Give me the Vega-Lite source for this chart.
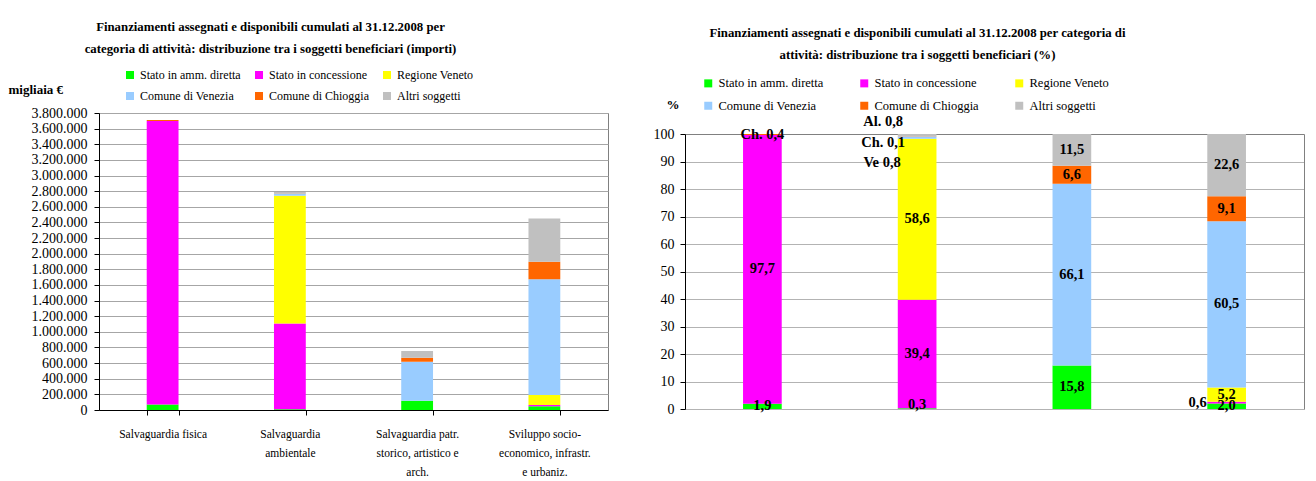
{
  "$schema": "https://vega.github.io/schema/vega-lite/v6.json",
  "padding": {"left": 7, "top": 20, "right": 13, "bottom": 0},
  "background": "white",
  "config": {
    "font": "Liberation Serif",
    "locale": {"number": {"decimal": ",", "thousands": ".", "grouping": [3], "currency": ["€", ""]}},
    "axis": {"labelColor": "#000", "titleColor": "#000", "labelFont": "Liberation Serif", "titleFont": "Liberation Serif"},
    "legend": {"labelFont": "Liberation Serif", "labelColor": "#000"}
  },
  "datasets": {
    "d": [
      {"cat": "Salvaguardia fisica", "sog": "Stato in amm. diretta", "ord": 1, "imp": 70500, "pct": 1.9, "lbl": "1,9"},
      {"cat": "Salvaguardia fisica", "sog": "Stato in concessione", "ord": 2, "imp": 3626600, "pct": 97.7, "lbl": "97,7"},
      {"cat": "Salvaguardia fisica", "sog": "Comune di Chioggia", "ord": 5, "imp": 14900, "pct": 0.4, "lbl": "Ch. 0,4"},
      {"cat": "Salvaguardia ambientale", "sog": "Stato in amm. diretta", "ord": 1, "imp": 8400, "pct": 0.3, "lbl": "0,3"},
      {"cat": "Salvaguardia ambientale", "sog": "Stato in concessione", "ord": 2, "imp": 1099300, "pct": 39.4, "lbl": "39,4"},
      {"cat": "Salvaguardia ambientale", "sog": "Regione Veneto", "ord": 3, "imp": 1634900, "pct": 58.6, "lbl": "58,6"},
      {"cat": "Salvaguardia ambientale", "sog": "Comune di Venezia", "ord": 4, "imp": 22300, "pct": 0.8, "lbl": "Ve 0,8"},
      {"cat": "Salvaguardia ambientale", "sog": "Comune di Chioggia", "ord": 5, "imp": 2800, "pct": 0.1, "lbl": "Ch. 0,1"},
      {"cat": "Salvaguardia ambientale", "sog": "Altri soggetti", "ord": 6, "imp": 22300, "pct": 0.8, "lbl": "Al. 0,8"},
      {"cat": "Salvaguardia patr. storico, artistico e arch.", "sog": "Stato in amm. diretta", "ord": 1, "imp": 119300, "pct": 15.8, "lbl": "15,8"},
      {"cat": "Salvaguardia patr. storico, artistico e arch.", "sog": "Comune di Venezia", "ord": 4, "imp": 499100, "pct": 66.1, "lbl": "66,1"},
      {"cat": "Salvaguardia patr. storico, artistico e arch.", "sog": "Comune di Chioggia", "ord": 5, "imp": 49800, "pct": 6.6, "lbl": "6,6"},
      {"cat": "Salvaguardia patr. storico, artistico e arch.", "sog": "Altri soggetti", "ord": 6, "imp": 86800, "pct": 11.5, "lbl": "11,5"},
      {"cat": "Sviluppo socio-economico, infrastr. e urbaniz.", "sog": "Stato in amm. diretta", "ord": 1, "imp": 49000, "pct": 2.0, "lbl": "2,0"},
      {"cat": "Sviluppo socio-economico, infrastr. e urbaniz.", "sog": "Stato in concessione", "ord": 2, "imp": 14700, "pct": 0.6, "lbl": "0,6"},
      {"cat": "Sviluppo socio-economico, infrastr. e urbaniz.", "sog": "Regione Veneto", "ord": 3, "imp": 127400, "pct": 5.2, "lbl": "5,2"},
      {"cat": "Sviluppo socio-economico, infrastr. e urbaniz.", "sog": "Comune di Venezia", "ord": 4, "imp": 1482300, "pct": 60.5, "lbl": "60,5"},
      {"cat": "Sviluppo socio-economico, infrastr. e urbaniz.", "sog": "Comune di Chioggia", "ord": 5, "imp": 223000, "pct": 9.1, "lbl": "9,1"},
      {"cat": "Sviluppo socio-economico, infrastr. e urbaniz.", "sog": "Altri soggetti", "ord": 6, "imp": 553700, "pct": 22.6, "lbl": "22,6"}
    ]
  },
  "bounds": "flush",
  "spacing": 77,
  "resolve": {"legend": {"color": "independent"}},
  "hconcat": [
    {
      "width": 509,
      "height": 297,
      "view": {"stroke": "#808080"},
      "title": {
        "text": ["Finanziamenti assegnati e disponibili cumulati al 31.12.2008 per", "categoria di attività: distribuzione tra i soggetti beneficiari (importi)"],
        "frame": "group", "anchor": "middle", "dx": -83, "offset": 13,
        "fontSize": 12.8, "fontWeight": "bold", "lineHeight": 22, "font": "Liberation Serif", "color": "#000"
      },
      "data": {"name": "d"},
      "mark": {"type": "bar"},
      "encoding": {
        "x": {
          "field": "cat", "type": "nominal",
          "sort": ["Salvaguardia fisica", "Salvaguardia ambientale", "Salvaguardia patr. storico, artistico e arch.", "Sviluppo socio-economico, infrastr. e urbaniz."],
          "scale": {"paddingInner": 0.75, "paddingOuter": 0.375},
          "axis": {
            "title": null, "labelAngle": 0, "labelFontSize": 11.5, "labelLineHeight": 19.3, "labelPadding": 13,
            "tickBand": "extent", "tickSize": 5, "tickColor": "#000", "domainColor": "#000", "labelOverlap": false, "grid": false,
            "labelExpr": "datum.label == 'Salvaguardia ambientale' ? ['Salvaguardia', 'ambientale'] : datum.label == 'Salvaguardia patr. storico, artistico e arch.' ? ['Salvaguardia patr.', 'storico, artistico e', 'arch.'] : datum.label == 'Sviluppo socio-economico, infrastr. e urbaniz.' ? ['Sviluppo socio-', 'economico, infrastr.', 'e urbaniz.'] : datum.label"
          }
        },
        "y": {
          "field": "imp", "type": "quantitative", "stack": "zero",
          "scale": {"domain": [0, 3800000], "nice": false},
          "axis": {
            "title": "migliaia €", "titleAngle": 0, "titleX": -91, "titleY": -24, "titleAlign": "left", "titleBaseline": "middle",
            "titleFontSize": 13, "titleFontWeight": "bold",
            "values": [0, 200000, 400000, 600000, 800000, 1000000, 1200000, 1400000, 1600000, 1800000, 2000000, 2200000, 2400000, 2600000, 2800000, 3000000, 3200000, 3400000, 3600000, 3800000],
            "format": ",.0f", "labelFontSize": 14, "labelPadding": 7, "tickSize": 5, "tickColor": "#000", "domainColor": "#000",
            "grid": true, "gridColor": "#a6a6a6"
          }
        },
        "color": {
          "field": "sog", "type": "nominal",
          "scale": {
            "domain": ["Stato in amm. diretta", "Stato in concessione", "Regione Veneto", "Comune di Venezia", "Comune di Chioggia", "Altri soggetti"],
            "range": ["#00FF00", "#FF00FF", "#FFFF00", "#99CCFF", "#FF6600", "#C0C0C0"]
          },
          "legend": {
            "title": null, "orient": "none", "direction": "horizontal", "legendX": 25, "legendY": -44, "columns": 3, "columnPadding": 12, "rowPadding": 9,
            "symbolType": "square", "symbolSize": 64, "symbolStrokeWidth": 0, "labelFontSize": 12, "labelOffset": 4, "padding": 0, "labelLimit": 200
          }
        },
        "order": {"field": "ord", "type": "quantitative"}
      }
    },
    {
      "width": 619,
      "height": 296,
      "view": {"stroke": null},
      "title": {
        "text": ["Finanziamenti assegnati e disponibili cumulati al 31.12.2008 per categoria di", "attività: distribuzione tra i soggetti beneficiari (%)"],
        "frame": "group", "anchor": "middle", "dx": -77, "offset": 15,
        "fontSize": 12.8, "fontWeight": "bold", "lineHeight": 22, "font": "Liberation Serif", "color": "#000"
      },
      "data": {"name": "d"},
      "resolve": {"axis": {"y": "independent"}},
      "layer": [
        {
          "mark": {"type": "bar"},
          "encoding": {
            "x": {
              "field": "cat", "type": "nominal",
              "sort": ["Salvaguardia fisica", "Salvaguardia ambientale", "Salvaguardia patr. storico, artistico e arch.", "Sviluppo socio-economico, infrastr. e urbaniz."],
              "scale": {"paddingInner": 0.75, "paddingOuter": 0.375},
              "axis": {
                "title": null, "labelAngle": 0, "labelFontSize": 11.5, "labelLineHeight": 19.3, "labelPadding": 13,
                "tickBand": "extent", "tickSize": 5, "tickColor": "#000", "domainColor": "#000", "labelOverlap": false, "grid": false,
                "labelExpr": "datum.label == 'Salvaguardia patr. storico, artistico e arch.' ? ['Salvaguardia patr.', 'storico, artistico e arch.'] : datum.label == 'Sviluppo socio-economico, infrastr. e urbaniz.' ? ['Sviluppo socio-', 'economico, infrastr. e', 'urbaniz.'] : datum.label"
              }
            },
            "y": {
              "field": "pct", "type": "quantitative", "stack": "zero",
              "scale": {"domain": [0, 100], "range": [296, 21], "nice": false},
              "axis": {
                "title": "%", "titleAngle": 0, "titleX": -19, "titleY": -9, "titleAlign": "left", "titleBaseline": "middle",
                "titleFontSize": 13, "titleFontWeight": "bold",
                "values": [0, 10, 20, 30, 40, 50, 60, 70, 80, 90, 100],
                "labelFontSize": 14, "labelPadding": 6, "tickSize": 5, "tickColor": "#000", "domainColor": "#000",
                "grid": true, "gridColor": {"condition": {"test": "datum.value === 100", "value": "#808080"}, "value": "#b3b3b3"}
              }
            },
            "color": {
              "field": "sog", "type": "nominal",
              "scale": {
                "domain": ["Stato in amm. diretta", "Stato in concessione", "Regione Veneto", "Comune di Venezia", "Comune di Chioggia", "Altri soggetti"],
                "range": ["#00FF00", "#FF00FF", "#FFFF00", "#99CCFF", "#FF6600", "#C0C0C0"]
              },
              "legend": {
                "title": null, "orient": "none", "direction": "horizontal", "legendX": 17, "legendY": -36, "columns": 3, "columnPadding": 34, "rowPadding": 9.5,
                "symbolType": "square", "symbolSize": 64, "symbolStrokeWidth": 0, "labelFontSize": 12.5, "labelOffset": 4, "padding": 0, "labelLimit": 200
              }
            },
            "order": {"field": "ord", "type": "quantitative"}
          }
        },
        {
          "transform": [
            {"stack": "pct", "groupby": ["cat"], "sort": [{"field": "ord", "order": "ascending"}], "as": ["p0", "p1"]},
            {"fold": ["p0", "p1"], "as": ["k", "v"]},
            {"aggregate": [{"op": "mean", "field": "v", "as": "mid"}], "groupby": ["cat", "lbl", "ord"]}
          ],
          "encoding": {
            "x": {
              "field": "cat", "type": "nominal",
              "sort": ["Salvaguardia fisica", "Salvaguardia ambientale", "Salvaguardia patr. storico, artistico e arch.", "Sviluppo socio-economico, infrastr. e urbaniz."],
              "axis": null
            },
            "y": {
              "field": "mid", "type": "quantitative",
              "scale": {"domain": [0, 100], "range": [296, 21], "nice": false},
              "axis": {"orient": "right", "title": null, "labels": false, "ticks": false, "grid": false, "domain": true, "domainColor": "#808080"}
            },
            "text": {"field": "lbl", "type": "nominal"}
          },
          "layer": [
            {
              "transform": [{"filter": {"not": {"field": "lbl", "oneOf": ["Ve 0,8", "Ch. 0,1", "Al. 0,8", "0,6", "0,3"]}}}],
              "mark": {"type": "text", "fontWeight": "bold", "fontSize": 14.5, "baseline": "middle", "color": "#000"}
            },
            {
              "transform": [{"filter": {"field": "lbl", "equal": "0,3"}}],
              "mark": {"type": "text", "fontWeight": "bold", "fontSize": 14.5, "baseline": "middle", "color": "#000", "dy": -3.5}
            },
            {
              "transform": [{"filter": {"field": "lbl", "equal": "Al. 0,8"}}],
              "mark": {"type": "text", "fontWeight": "bold", "fontSize": 14.5, "baseline": "middle", "color": "#000", "dx": -34, "dy": -13.4}
            },
            {
              "transform": [{"filter": {"field": "lbl", "equal": "Ch. 0,1"}}],
              "mark": {"type": "text", "fontWeight": "bold", "fontSize": 14.5, "baseline": "middle", "color": "#000", "dx": -34, "dy": 6.4}
            },
            {
              "transform": [{"filter": {"field": "lbl", "equal": "Ve 0,8"}}],
              "mark": {"type": "text", "fontWeight": "bold", "fontSize": 14.5, "baseline": "middle", "color": "#000", "dx": -35, "dy": 25.7}
            },
            {
              "transform": [{"filter": {"field": "lbl", "equal": "0,6"}}],
              "mark": {"type": "text", "fontWeight": "bold", "fontSize": 14.5, "baseline": "middle", "color": "#000", "align": "right", "dx": -20}
            }
          ]
        }
      ]
    }
  ]
}
